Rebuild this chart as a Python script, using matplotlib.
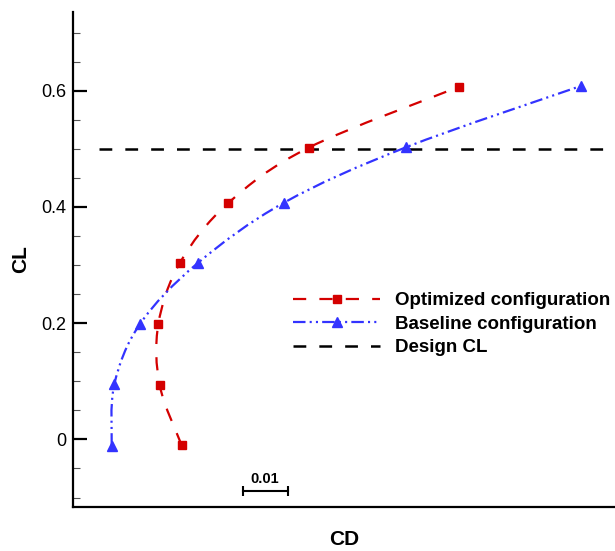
import matplotlib
matplotlib.use("Agg")
import matplotlib.pyplot as plt
import numpy as np
from matplotlib.path import Path
from matplotlib.patches import PathPatch
from matplotlib.lines import Line2D

plt.rcParams['font.family'] = ['Liberation Sans', 'DejaVu Sans']
plt.rcParams['lines.scale_dashes'] = False

# ---- data ----
cd_opt = [0.02909, 0.02420, 0.02389, 0.02871, 0.03944, 0.05731, 0.09078]
cl_opt = [-0.0102, 0.0931, 0.1980, 0.3040, 0.4067, 0.5020, 0.6069]
cd_base = [0.01353, 0.01411, 0.01982, 0.03260, 0.05182, 0.07893, 0.11776]
cl_base = [-0.0108, 0.0947, 0.1986, 0.3030, 0.4073, 0.5026, 0.6080]
design_cd = [0.01071, 0.135]
design_cl = [0.5, 0.5]
scale_cd_start = 0.04264
scale_cd_len = 0.01
scale_cl = -0.0883
scale_label = "0.01"
labels = ["Optimized configuration", "Baseline configuration", "Design CL"]
yticks_major = [0, 0.2, 0.4, 0.6]
yticks_minor = np.arange(-0.1, 0.701, 0.05)

RED = '#d40000'
BLUE = '#3333ff'
ls_opt = (0, (9.5, 9.5))
ls_base = (0, (9, 3, 1.5, 3, 1.5, 3))
ls_design = (0, (9.2, 9.4))

fig = plt.figure(figsize=(6.15, 5.51), dpi=100)
ax = fig.add_axes([73.3/615, 44.3/551, (615-73.3)/615, (506.7-12)/551])
ax.set_xlim(0.005, 0.005 + 541.7/4500)
ax.set_ylim(-0.1158, 0.7354)


def smooth_path(xs, ys):
    P = np.column_stack([xs, ys])
    n = len(P)
    verts = [P[0]]
    codes = [Path.MOVETO]
    for i in range(n - 1):
        p0 = P[max(i - 1, 0)]
        p1 = P[i]
        p2 = P[i + 1]
        p3 = P[min(i + 2, n - 1)]
        c1 = p1 + (p2 - p0) / 6.0
        c2 = p2 - (p3 - p1) / 6.0
        verts += [c1, c2, p2]
        codes += [Path.CURVE4] * 3
    return Path(np.array(verts), codes)


ax.add_patch(PathPatch(smooth_path(cd_opt, cl_opt), fill=False, edgecolor=RED,
                       lw=1.6, linestyle=ls_opt, zorder=3))
ax.add_patch(PathPatch(smooth_path(cd_base, cl_base), fill=False, edgecolor=BLUE,
                       lw=1.6, linestyle=ls_base, zorder=3))
ax.plot(cd_opt, cl_opt, ls='none', marker='s', color=RED, markersize=6, zorder=4)
ax.plot(cd_base, cl_base, ls='none', marker='^', color=BLUE, markersize=7, zorder=4)
ax.plot(design_cd, design_cl, color='black', lw=1.8, linestyle=ls_design, zorder=2)

# scale bar
ax.plot([scale_cd_start, scale_cd_start + scale_cd_len], [scale_cl, scale_cl],
        color='black', lw=1.5, marker='|', markersize=7, markeredgewidth=1.5)
ax.text(scale_cd_start + scale_cd_len / 2, scale_cl + 0.008, scale_label,
        ha='center', va='bottom', fontsize=10.5, fontweight='bold')

# axes styling
for s in ['top', 'right']:
    ax.spines[s].set_visible(False)
ax.spines['left'].set_linewidth(1.6)
ax.spines['bottom'].set_linewidth(1.6)
ax.set_xticks([])
ax.set_yticks(yticks_major)
ax.set_yticklabels(['0', '0.2', '0.4', '0.6'])
ax.set_yticks(yticks_minor, minor=True)
ax.tick_params(axis='y', which='major', direction='in', length=10, width=1.6,
               labelsize=13, pad=5)
ax.tick_params(axis='y', which='minor', direction='in', length=5, width=0.8,
               color='#555555')

ax.set_ylabel('CL', fontsize=15, fontweight='bold', va='center')
ax.yaxis.set_label_coords(-0.0965, 0.5)
ax.set_xlabel('CD', fontsize=15, fontweight='bold', va='center')
ax.xaxis.set_label_coords(0.5, -0.0673)

handles = [
    Line2D([], [], color=RED, lw=1.6, linestyle=ls_opt, marker='s', markersize=6),
    Line2D([], [], color=BLUE, lw=1.6, linestyle=ls_base, marker='^', markersize=7),
    Line2D([], [], color='black', lw=1.8, linestyle=ls_design),
]
leg = fig.legend(handles, labels, loc='center left',
                 bbox_to_anchor=(293/615, 1 - 324.3/551),
                 frameon=False, borderpad=0, borderaxespad=0,
                 handlelength=4.64, handletextpad=0.8, labelspacing=0.34,
                 numpoints=1, prop={'size': 13.5, 'weight': 'bold'})

fig.savefig('out.png', dpi=100)
